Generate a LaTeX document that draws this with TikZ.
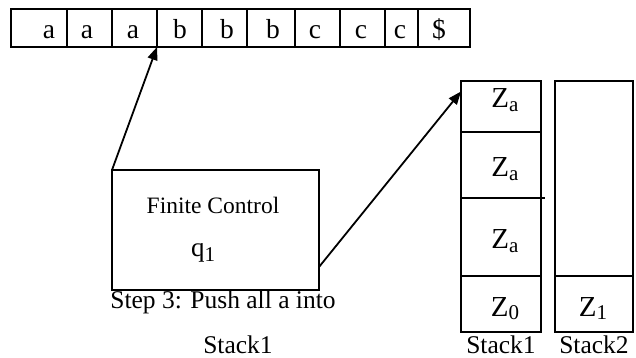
\documentclass[tikz,border=0pt]{standalone}
\usepackage{fontspec}
\setmainfont{Liberation Serif}
\usetikzlibrary{arrows.meta}
\newcommand{\lowsub}[2]{\raisebox{-#2}{\fontsize{21}{21}\selectfont #1}}
\begin{document}
\begin{tikzpicture}[x=1pt,y=-1pt,
  cell/.style={draw,line width=1.4pt,inner sep=0pt,outer sep=0pt,anchor=north west},
  tapetxt/.style={font=\fontsize{27.5}{30}\selectfont,inner sep=0pt,anchor=base},
  ztxt/.style={font=\fontsize{29}{31}\selectfont,inner sep=0pt,anchor=base},
  qtxt/.style={font=\fontsize{27}{29}\selectfont,inner sep=0pt,anchor=base},
  lbl/.style={font=\fontsize{25.5}{27}\selectfont,inner sep=0pt,anchor=base},
  fctxt/.style={font=\fontsize{23.5}{25}\selectfont,inner sep=0pt,anchor=base},
  arr/.style={line width=1.8pt,-{Triangle[length=13pt,width=10pt]}}]
\useasboundingbox (0,0) rectangle (636,358);
% tape
\node[cell,minimum width=56pt,minimum height=38pt] (t1) at (11,9) {};
\node[cell,minimum width=45pt,minimum height=38pt] (t2) at (67,9) {};
\node[cell,minimum width=45pt,minimum height=38pt] (t3) at (112,9) {};
\node[cell,minimum width=45pt,minimum height=38pt] (t4) at (157,9) {};
\node[cell,minimum width=45pt,minimum height=38pt] (t5) at (202,9) {};
\node[cell,minimum width=48pt,minimum height=38pt] (t6) at (247,9) {};
\node[cell,minimum width=45pt,minimum height=38pt] (t7) at (295,9) {};
\node[cell,minimum width=45pt,minimum height=38pt] (t8) at (340,9) {};
\node[cell,minimum width=33pt,minimum height=38pt] (t9) at (385,9) {};
\node[cell,minimum width=52pt,minimum height=38pt] (t10) at (418,9) {};
\node[tapetxt] (l1) at (49,39) {a};
\node[tapetxt] (l2) at (87,39) {a};
\node[tapetxt] (l3) at (133,39) {a};
\node[tapetxt] (l4) at (180,39) {b};
\node[tapetxt] (l5) at (227,39) {b};
\node[tapetxt] (l6) at (273,39) {b};
\node[tapetxt] (l7) at (315,39) {c};
\node[tapetxt] (l8) at (361,39) {c};
\node[tapetxt] (l9) at (400,39) {c};
\node[tapetxt] (l10) at (439,39) {\$};
% finite control
\node[cell,minimum width=207pt,minimum height=120pt] (fc) at (112,170) {};
\node[fctxt] (fct) at (213,213) {Finite Control};
\node[qtxt] (q) at (203,256) {q\lowsub{1}{5pt}};
\node[lbl] (st1) at (223,308) {Step 3: Push all a into};
\node[lbl] (st2) at (238,353) {Stack1};
% stack 1
\node[cell,minimum width=80pt,minimum height=51pt] (s1a) at (461,81) {};
\node[cell,minimum width=80pt,minimum height=66pt] (s1b) at (461,132) {};
\node[cell,minimum width=80pt,minimum height=78pt] (s1c) at (461,198) {};
\node[cell,minimum width=80pt,minimum height=56pt] (s1d) at (461,276) {};
\draw[line width=1.4pt] (s1c.north east) -- ([xshift=4pt]s1c.north east);
\node[ztxt] (z1) at (505,108) {Z\lowsub{a}{4pt}};
\node[ztxt] (z2) at (505,176) {Z\lowsub{a}{4pt}};
\node[ztxt] (z3) at (505,248) {Z\lowsub{a}{4pt}};
\node[ztxt] (z4) at (505,316) {Z\lowsub{0}{3pt}};
% stack 2
\node[cell,minimum width=78pt,minimum height=195pt] (s2a) at (555,81) {};
\node[cell,minimum width=78pt,minimum height=56pt] (s2b) at (555,276) {};
\node[ztxt] (z5) at (593,316) {Z\lowsub{1}{3pt}};
\node[lbl] (sl1) at (501,353) {Stack1};
\node[lbl] (sl2) at (594,353) {Stack2};
% arrows
\draw[arr] (fc.north west) -- (t3.south east);
\draw[arr] ([yshift=-37pt]fc.east) -- ([yshift=15pt]s1a.west);
\end{tikzpicture}
\end{document}
